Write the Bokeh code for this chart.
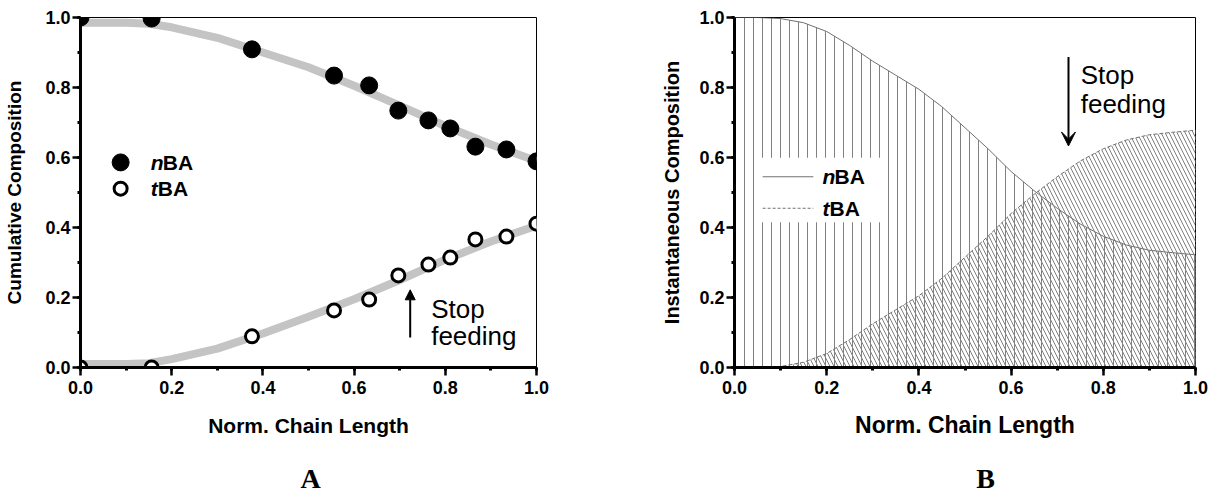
from bokeh.plotting import figure
from bokeh.layouts import row, column
from bokeh.models import (Range1d, SingleIntervalTicker, PrintfTickFormatter, Label,
                          Arrow, NormalHead, VeeHead, BoxAnnotation)
from bokeh.embed import file_html
from bokeh.resources import INLINE

# ---------------- data ----------------
# Panel A: cumulative composition (measured points)
chain_pts = [0.0, 0.156, 0.376, 0.556, 0.633, 0.697, 0.763, 0.811, 0.866, 0.934, 1.0]
nba_cum = [1.0, 0.997, 0.909, 0.834, 0.806, 0.734, 0.706, 0.683, 0.631, 0.623, 0.589]
tba_cum = [0.0, 0.0, 0.089, 0.163, 0.194, 0.263, 0.294, 0.314, 0.366, 0.374, 0.411]
# Panel A: fitted curves
fit_x = [0.0, 0.1, 0.15, 0.2, 0.3, 0.4, 0.5, 0.6, 0.7, 0.8, 0.9, 1.0]
nba_fit = [0.985, 0.985, 0.982, 0.972, 0.942, 0.9, 0.858, 0.805, 0.748, 0.69, 0.637, 0.59]
tba_fit = [0.01, 0.01, 0.012, 0.024, 0.054, 0.097, 0.145, 0.195, 0.25, 0.308, 0.36, 0.405]
# Panel B: instantaneous composition
inst_x = [0.0, 0.05, 0.1, 0.15, 0.2, 0.25, 0.3, 0.35, 0.4, 0.45, 0.5,
          0.55, 0.6, 0.65, 0.7, 0.75, 0.8, 0.85, 0.9, 0.95, 1.0]
nba_inst = [1.0, 1.0, 0.997, 0.985, 0.96, 0.92, 0.875, 0.835, 0.795, 0.745, 0.685,
            0.625, 0.56, 0.505, 0.455, 0.41, 0.375, 0.35, 0.335, 0.328, 0.322]
tba_inst = [0.0, 0.0, 0.003, 0.015, 0.04, 0.08, 0.125, 0.165, 0.205, 0.255, 0.315,
            0.375, 0.44, 0.495, 0.545, 0.59, 0.625, 0.65, 0.665, 0.672, 0.678]
stop_feeding = 0.723
tick_labels_fmt = "%.1f"
panel_letters = ["A", "B"]

SANS = "Liberation Sans"
INK = "black"


def style(p, xlabel_size, ylabel_size, ylab_standoff, xlab_standoff):
    p.grid.visible = False
    p.outline_line_color = "black"
    p.outline_line_width = 1
    p.background_fill_color = "white"
    p.border_fill_color = "white"
    for ax in (p.xaxis[0], p.yaxis[0]):
        ax.ticker = SingleIntervalTicker(interval=0.2, num_minor_ticks=2)
        ax.formatter = PrintfTickFormatter(format=tick_labels_fmt)
        ax.axis_line_width = 3
        ax.axis_line_color = "black"
        ax.major_tick_line_width = 2.5
        ax.minor_tick_line_width = 3
        ax.major_tick_in = 0
        ax.minor_tick_in = 0
        ax.major_tick_out = 8
        ax.minor_tick_out = 3
        ax.major_label_text_font = SANS
        ax.major_label_text_font_style = "bold"
        ax.major_label_text_font_size = "18px"
        ax.major_label_text_color = INK
        ax.axis_label_text_font = SANS
        ax.axis_label_text_font_style = "bold"
        ax.axis_label_text_color = INK
    p.xaxis[0].axis_label_text_font_size = xlabel_size
    p.yaxis[0].axis_label_text_font_size = ylabel_size
    p.xaxis[0].major_label_standoff = 5
    p.yaxis[0].major_label_standoff = 2
    p.yaxis[0].axis_label_standoff = ylab_standoff
    p.xaxis[0].axis_label_standoff = xlab_standoff


def text(p, x, y, s, size="26px", style_="normal", xoff=0, baseline="alphabetic"):
    p.add_layout(Label(x=x, y=y, x_offset=xoff, text=s, text_font=SANS, text_font_size=size,
                       text_font_style=style_, text_color=INK,
                       text_baseline=baseline, text_align="left"))


# ---------------- Panel A ----------------
p1 = figure(width=604, height=446, x_range=Range1d(0, 1), y_range=Range1d(0, 1),
            output_backend="svg", toolbar_location=None,
            x_axis_label="Norm. Chain Length", y_axis_label="Cumulative Composition",
            min_border_left=80, min_border_right=68, min_border_top=17, min_border_bottom=79)
style(p1, "21px", "19px", 17, 17)

p1.line(fit_x, nba_fit, line_color="#c4c4c4", line_width=8)
p1.line(fit_x, tba_fit, line_color="#c4c4c4", line_width=8)
p1.scatter(chain_pts, nba_cum, marker="circle", size=17, fill_color="black", line_color="black")
p1.scatter(chain_pts, tba_cum, marker="circle", size=13, fill_color="white",
           line_color="black", line_width=3)

# legend (manual, to allow italic prefix)
p1.scatter([0.088], [0.586], marker="circle", size=17, fill_color="black", line_color="black")
p1.scatter([0.088], [0.511], marker="circle", size=13, fill_color="white",
           line_color="black", line_width=3)
for yy, pre in ((0.586, "n"), (0.511, "t")):
    text(p1, 0.154, yy, pre, "21px", "bold italic", 0, "middle")
    text(p1, 0.154, yy, "BA", "21px", "bold", 12 if pre == "n" else 7, "middle")

p1.add_layout(Arrow(x_start=stop_feeding, y_start=0.086, x_end=stop_feeding, y_end=0.222,
                    line_width=2, line_color="black",
                    end=NormalHead(size=10, fill_color="black", line_color="black")))
text(p1, 0.769, 0.166, "Stop")
text(p1, 0.769, 0.09, "feeding")

# ---------------- Panel B ----------------
p2 = figure(width=604, height=446, x_range=Range1d(0, 1), y_range=Range1d(0, 1),
            output_backend="svg", toolbar_location=None,
            x_axis_label="Norm. Chain Length", y_axis_label="Instantaneous Composition",
            min_border_left=130, min_border_right=13, min_border_top=13, min_border_bottom=79)
style(p2, "23px", "20px", 13, 15)

p2.patch(inst_x + [1.0, 0.0], nba_inst + [0.0, 0.0], fill_color=None,
         line_color="#707070", line_width=1,
         hatch_pattern="vertical_line", hatch_color="#808080", hatch_weight=1, hatch_scale=9)
p2.patch(inst_x + [1.0, 0.0], tba_inst + [0.0, 0.0], fill_color=None,
         line_color="#707070", line_width=1, line_dash="4 2",
         hatch_pattern="left_diagonal_line", hatch_color="#808080", hatch_weight=1, hatch_scale=8)

# legend box and samples
p2.add_layout(BoxAnnotation(left=0.05, right=0.332, bottom=0.415, top=0.599,
                            fill_color="white", fill_alpha=1.0, line_color=None))
p2.add_layout(Arrow(x_start=0.061, y_start=0.545, x_end=0.171, y_end=0.545, start=None, end=None,
                    line_color="#707070", line_width=1))
p2.add_layout(Arrow(x_start=0.061, y_start=0.455, x_end=0.171, y_end=0.455, start=None, end=None,
                    line_color="#707070", line_width=1, line_dash="3 2"))
for yy, pre in ((0.545, "n"), (0.455, "t")):
    text(p2, 0.191, yy, pre, "21px", "bold italic", 0, "middle")
    text(p2, 0.191, yy, "BA", "21px", "bold", 12 if pre == "n" else 7, "middle")

p2.add_layout(Arrow(x_start=0.7245, y_start=0.887, x_end=0.7245, y_end=0.633,
                    line_width=2, line_color="black",
                    end=VeeHead(size=14, fill_color="black", line_color="black")))
text(p2, 0.751, 0.836, "Stop")
text(p2, 0.751, 0.754, "feeding")

# ---------------- panel letters strip ----------------
p3 = figure(width=1208, height=48, x_range=Range1d(0, 1208), y_range=Range1d(0, 48),
            output_backend="svg", toolbar_location=None,
            x_axis_location=None, y_axis_location=None, min_border=0)
p3.grid.visible = False
p3.outline_line_color = None
for xx, letter in ((310, panel_letters[0]), (985, panel_letters[1])):
    p3.add_layout(Label(x=xx, y=16, text=letter, text_font="Liberation Serif",
                        text_font_size="28px", text_font_style="bold", text_color=INK,
                        text_align="center", text_baseline="middle"))

layout = column(row(p1, p2), p3)
open("out.html", "w").write(file_html(layout, INLINE))
